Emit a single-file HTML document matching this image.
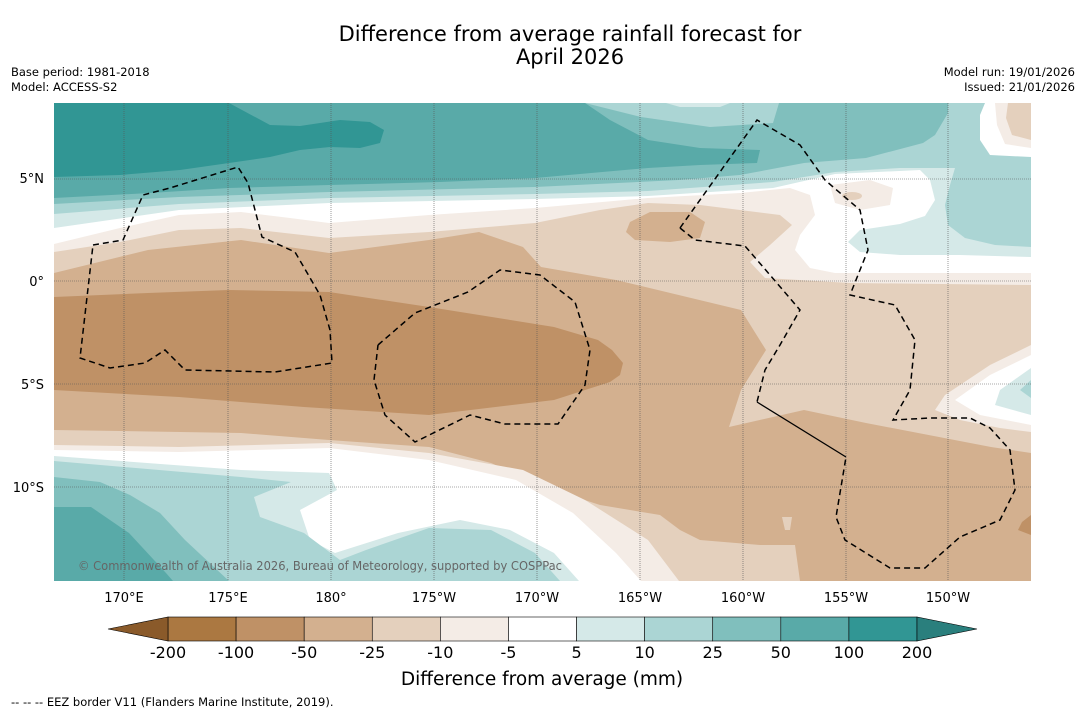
<!DOCTYPE html>
<html><head><meta charset="utf-8">
<style>
body{margin:0;background:#fff;width:1085px;height:713px;overflow:hidden;font-family:"DejaVu Sans","Liberation Sans",sans-serif;}
svg{position:absolute;left:0;top:0;font-family:"DejaVu Sans","Liberation Sans",sans-serif}
</style></head>
<body>
<svg width="1085" height="713" viewBox="0 0 1085 713">
<text x="570" y="41" text-anchor="middle" font-size="21">Difference from average rainfall forecast for</text>
<text x="570" y="64" text-anchor="middle" font-size="21">April 2026</text>
<text x="11" y="76" font-size="11.5">Base period: 1981-2018</text>
<text x="11" y="91" font-size="11.5">Model: ACCESS-S2</text>
<text x="1075" y="76" font-size="11.5" text-anchor="end">Model run: 19/01/2026</text>
<text x="1075" y="91" font-size="11.5" text-anchor="end">Issued: 21/01/2026</text>
<defs><clipPath id="mc"><rect x="54" y="103" width="977" height="478"/></clipPath></defs>
<g clip-path="url(#mc)">
<rect x="54" y="103" width="977" height="478" fill="#e4d0bd"/>
<polygon fill="#f4ece6" points="54,103 1031,103 1031,285 850,283 765,278 750,262 770,245 792,225 780,215 700,205 648,203 600,210 535,223 429,232 329,238 241,228 179,230 120,242 54,252"/>
<polygon fill="#ffffff" points="54,103 1031,103 1031,273 835,273 810,268 795,250 800,235 815,215 810,195 790,188 740,193 648,198 535,208 429,215 329,223 290,218 241,212 179,215 120,228 54,244"/>
<polygon fill="#f4ece6" points="830,185 870,180 893,188 890,205 860,210 835,203"/>
<ellipse cx="852" cy="196" rx="10" ry="4" fill="#e4d0bd"/>
<polygon fill="#d5e9e8" points="54,103 1031,103 1031,257 960,255 900,255 860,252 848,242 860,230 900,224 925,216 935,200 930,180 920,170 835,174 773,188 648,196 535,199 329,203 179,210 54,228"/>
<polygon fill="#abd5d4" points="54,103 1031,103 1031,247 995,245 965,238 948,225 945,205 950,185 955,168 900,168 835,172 773,182 648,191 535,194 329,198 179,204 54,214"/>
<polygon fill="#ffffff" points="985,103 1031,103 1031,157 990,155 980,140 980,115"/>
<polygon fill="#f4ece6" points="995,103 1031,103 1031,148 1005,144 997,125"/>
<polygon fill="#e4d0bd" points="1008,103 1031,103 1031,140 1012,135 1006,118"/>
<polygon fill="#80bfbd" points="54,103 948,103 948,113 935,135 923,143 866,158 804,163 740,175 679,180 535,187 329,192 179,197 54,204"/>
<polygon fill="#abd5d4" points="585,103 779,103 773,123 710,127 641,117"/>
<polygon fill="#d5e9e8" points="666,103 730,103 720,107 680,107"/>
<polygon fill="#59aaa8" points="54,103 585,103 610,120 648,140 700,148 760,150 757,163 700,165 648,168 535,178 440,182 329,185 229,188 150,193 54,198"/>
<polygon fill="#319694" points="54,103 229,103 270,125 300,126 340,120 370,122 384,130 380,143 360,148 330,147 300,150 270,157 229,163 180,170 120,175 54,177"/>
<polygon fill="#d3b08f" points="54,273 148,250 241,240 329,253 429,240 479,232 523,247 541,267 616,280 741,310 766,350 741,390 729,427 773,417 804,410 866,423 991,447 1031,453 1031,581 800,581 795,545 760,545 700,540 680,530 660,515 600,505 554,490 491,463 429,447 329,440 241,433 54,430"/>
<polygon fill="#d3b08f" points="630,222 650,212 690,212 705,222 700,238 670,242 635,240 626,232"/>
<polygon fill="#e4d0bd" points="782,517 792,517 790,530 785,530"/>
<polygon fill="#bf9166" points="1031,515 1022,522 1018,530 1031,535"/>
<polygon fill="#bf9166" points="54,297 148,293 229,290 329,292 429,307 554,327 598,340 612,350 623,363 620,375 610,382 554,400 429,415 304,407 179,397 54,390"/>
<polygon fill="#f4ece6" points="1031,345 990,365 945,395 935,410 960,420 1000,428 1031,432"/>
<polygon fill="#ffffff" points="1031,355 990,375 955,400 980,415 1031,425"/>
<polygon fill="#d5e9e8" points="1031,368 1000,390 995,405 1031,415"/>
<polygon fill="#abd5d4" points="1031,380 1020,390 1031,398"/>
<polygon fill="#f4ece6" points="54,445 179,447 329,443 429,453 523,470 585,500 648,540 679,581 54,581"/>
<polygon fill="#ffffff" points="54,450 179,452 329,448 429,460 516,480 573,513 616,553 641,581 54,581"/>
<polygon fill="#d5e9e8" points="54,456 241,470 329,473 337,490 300,510 310,540 335,553 398,533 460,520 510,530 554,553 579,581 54,581"/>
<polygon fill="#abd5d4" points="54,461 241,477 291,482 254,497 260,517 304,533 340,560 366,550 429,528 491,530 535,553 560,581 54,581"/>
<polygon fill="#80bfbd" points="54,477 100,482 130,495 160,513 185,540 229,581 54,581"/>
<polygon fill="#59aaa8" points="54,507 91,507 129,533 166,573 173,581 54,581"/>
<g stroke="#555" stroke-width="0.6" stroke-dasharray="1,1">
<line x1="124" y1="103" x2="124" y2="581"/><line x1="228" y1="103" x2="228" y2="581"/><line x1="331" y1="103" x2="331" y2="581"/><line x1="434" y1="103" x2="434" y2="581"/><line x1="537" y1="103" x2="537" y2="581"/><line x1="640" y1="103" x2="640" y2="581"/><line x1="743" y1="103" x2="743" y2="581"/><line x1="846" y1="103" x2="846" y2="581"/><line x1="948" y1="103" x2="948" y2="581"/>
<line x1="54" y1="179" x2="1031" y2="179"/><line x1="54" y1="281" x2="1031" y2="281"/><line x1="54" y1="384" x2="1031" y2="384"/><line x1="54" y1="487" x2="1031" y2="487"/>
</g>
<g fill="none" stroke="#000" stroke-width="1.5" stroke-dasharray="6,4">
<polyline points="93,245 123,240 143,195 170,188 238,167 248,183 262,237 295,252 320,295 330,330 332,363 275,372 185,370 165,350 145,363 110,368 80,358 93,245"/>
<polyline points="378,345 415,313 468,292 500,270 540,275 575,302 590,350 585,385 558,424 505,424 470,415 415,442 385,415 374,380 378,345"/>
<polyline points="680,228 757,120 800,145 825,180 860,210 868,250 850,295 895,305 915,340 910,390 893,420 930,418 970,418 990,428 1010,450 1015,490 1000,520 960,537 925,568 890,568 845,540 836,517 846,457"/>
<polyline points="680,228 695,240 745,246 770,275 800,310 780,345 765,370 757,402"/>
</g>
<line x1="757" y1="402" x2="846" y2="457" stroke="#000" stroke-width="1.3"/>
<text x="78" y="570" font-size="12" fill="#666" textLength="484" lengthAdjust="spacingAndGlyphs">© Commonwealth of Australia 2026, Bureau of Meteorology, supported by COSPPac</text>
</g>
<g font-size="13" text-anchor="end">
<text x="44" y="183">5°N</text><text x="44" y="286">0°</text><text x="44" y="389">5°S</text><text x="44" y="492">10°S</text>
</g>
<g font-size="13" text-anchor="middle">
<text x="124" y="602">170°E</text><text x="228" y="602">175°E</text><text x="331" y="602">180°</text><text x="434" y="602">175°W</text><text x="537" y="602">170°W</text><text x="640" y="602">165°W</text><text x="743" y="602">160°W</text><text x="846" y="602">155°W</text><text x="948" y="602">150°W</text>
</g>
<g id="cbar"></g>
<text x="542" y="685" font-size="18.5" text-anchor="middle">Difference from average (mm)</text>
<text x="11" y="706" font-size="11.5">--  --  -- EEZ border V11 (Flanders Marine Institute, 2019).</text>
</svg>
<script>
const levelLabels = ["-200","-100","-50","-25","-10","-5","5","10","25","50","100","200"];
const bandColors = ["#ab7841","#bf9166","#d3b08f","#e4d0bd","#f4ece6","#ffffff","#d5e9e8","#abd5d4","#80bfbd","#59aaa8","#319694"];
const underColor = "#8a5a2a";
const overColor = "#2a7f7d";
const NS = "http://www.w3.org/2000/svg";
const g = document.getElementById("cbar");
const x0 = 168, x1 = 917, y0 = 617, h = 24;
const step = (x1 - x0) / bandColors.length;
function xs(i){ return x0 + i * step; }
bandColors.forEach((c, i) => {
  const r = document.createElementNS(NS, "rect");
  r.setAttribute("x", xs(i)); r.setAttribute("y", y0);
  r.setAttribute("width", step); r.setAttribute("height", h);
  r.setAttribute("fill", c); r.setAttribute("stroke", "#000"); r.setAttribute("stroke-width", "0.6");
  
  
  g.appendChild(r);
});
const tl = document.createElementNS(NS, "polygon");
tl.setAttribute("points", `${x0},${y0} ${x0},${y0+h} 108,${y0+h/2}`);
tl.setAttribute("fill", underColor); tl.setAttribute("stroke", "#000"); tl.setAttribute("stroke-width", "0.6");


g.appendChild(tl);
const tr = document.createElementNS(NS, "polygon");
tr.setAttribute("points", `${x1},${y0} ${x1},${y0+h} 977,${y0+h/2}`);
tr.setAttribute("fill", overColor); tr.setAttribute("stroke", "#000"); tr.setAttribute("stroke-width", "0.6");


g.appendChild(tr);
levelLabels.forEach((t, i) => {
  const tx = document.createElementNS(NS, "text");
  tx.setAttribute("x", xs(i)); tx.setAttribute("y", 658);
  tx.setAttribute("text-anchor", "middle"); tx.setAttribute("font-size", "16");
  tx.textContent = t;
  
  
  g.appendChild(tx);
});
</script>
</body></html>
